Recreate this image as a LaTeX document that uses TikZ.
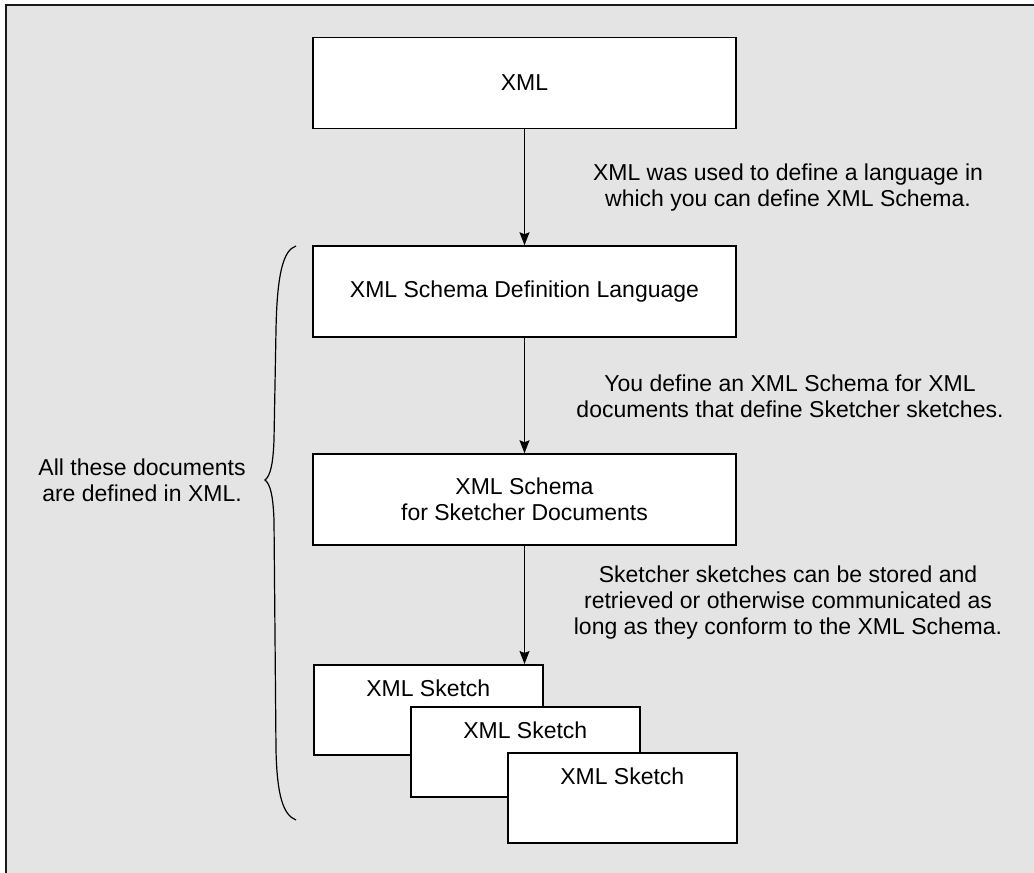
\documentclass[tikz,border=0pt]{standalone}
\usepackage{fontspec}
\setmainfont{Liberation Sans}
\usetikzlibrary{arrows.meta,calc,positioning}
\definecolor{panelGray}{HTML}{E4E4E4}
\definecolor{panelEdge}{HTML}{1A1A1A}

\begin{document}
\begin{tikzpicture}[x=1pt,y=-1pt, every node/.style={font=\fontsize{23}{26}\selectfont},
    docbox/.style={draw=black, fill=white, line width=1.5pt, minimum width=423pt, minimum height=91pt, align=center, inner sep=0pt},
    sketchbox/.style={draw=black, fill=white, line width=1.5pt, minimum width=229pt, inner sep=0pt, text height=32pt, text depth=58pt, anchor=north west},
    flow/.style={-{Stealth[length=13pt,width=10pt,inset=2pt]}, line width=1.2pt},
    note/.style={align=center}]
    \useasboundingbox (0,0) rectangle (1034,873);
    \fill[panelGray] (6,5) rectangle (1034,873);
    \draw[panelEdge, line width=2pt] (6,873) -- (6,5) -- (1034,5);
    % the chain of documents
    \node[docbox] (xml) at (524.5,83) {XML};
    \node[docbox] (xsdl) at (524.5,291.5) {XML Schema Definition Language};
    \node[docbox] (schema) at (524.5,499.5) {XML Schema\\for Sketcher Documents};
    \node[sketchbox] (sketchA) at (313,664) {XML Sketch};
    \node[sketchbox] (sketchB) at (410,706) {XML Sketch};
    \node[sketchbox] (sketchC) at (507,752) {XML Sketch};
    \draw[flow] (xml) -- (xsdl);
    \draw[flow] (xsdl) -- (schema);
    \draw[flow] (schema.south) -- (schema.south |- sketchA.north);
    % notes beside the arrows
    \node[note] (noteLang) at (788,188) {XML was used to define a language in\\which you can define XML Schema.};
    \node[note] (noteSchema) at (790,396) {You define an XML Schema for XML\\documents that define Sketcher sketches.};
    \node[note] (noteStore) at (788,603) {Sketcher sketches can be stored and\\retrieved or otherwise communicated as\\long as they conform to the XML Schema.};
    % brace on the left
    \node[note] (allXml) at (142,480) {All these documents\\are defined in XML.};
    \draw[line width=1.2pt] (296,246) .. controls (283,250) and (277,275) .. (276,330)
      -- (274,440) .. controls (273,466) and (270,476) .. (265,480)
      .. controls (270,484) and (273,494) .. (274,520)
      -- (276,750) .. controls (277,795) and (283,815) .. (296,820);
\end{tikzpicture}
\end{document}
